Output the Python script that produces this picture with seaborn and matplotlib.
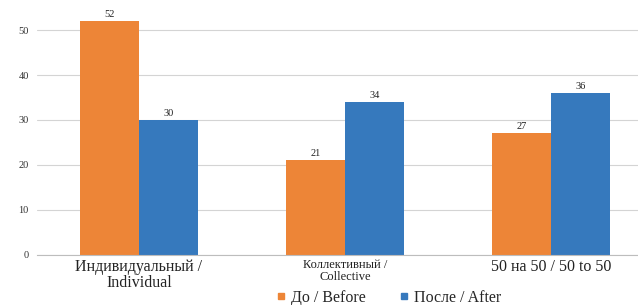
import matplotlib
matplotlib.use("Agg")
import matplotlib.pyplot as plt
from matplotlib.lines import Line2D
import pandas as pd
import seaborn as sns

categories = ["Индивидуальный /\nIndividual", "Коллективный /\nCollective", "50 на 50 / 50 to 50"]
before = [52, 21, 27]
after = [30, 34, 36]
series_names = ["До / Before", "После / After"]
colors = ["#ED8537", "#3679BD"]

df = pd.DataFrame({
    "category": categories * 2,
    "value": before + after,
    "series": [series_names[0]] * 3 + [series_names[1]] * 3,
})

sns.set_style("white")
plt.rcParams["font.family"] = ["Liberation Serif", "DejaVu Serif"]

fig = plt.figure(figsize=(6.38, 3.05), dpi=100)
ax = fig.add_axes([0.058, 0.164, 0.942, 0.836])

sns.barplot(data=df, x="category", y="value", hue="series", palette=colors,
            width=0.573, saturation=1, linewidth=0, legend=False, ax=ax)

for cont in ax.containers:
    ax.bar_label(cont, fontsize=7.5, padding=1.5, color="#222222")

ax.set_ylim(0, 56.67)
ax.set_xlim(-0.495, 2.422)
ax.set_yticks(range(0, 51, 10))
ax.yaxis.grid(True, color="#d4d4d4", linewidth=0.8)
ax.set_axisbelow(True)
for s in ["left", "right", "top"]:
    ax.spines[s].set_visible(False)
ax.spines["bottom"].set_color("#bdbdbd")
ax.tick_params(axis="y", labelsize=7.5, length=0, pad=6, labelcolor="#333333")
ax.tick_params(axis="x", length=0, pad=3, labelcolor="#222222")
ax.set_xlabel("")
ax.set_ylabel("")

sizes = [11.5, 9, 11.5]
for lab, sz in zip(ax.get_xticklabels(), sizes):
    lab.set_fontsize(sz)
    lab.set_linespacing(1.0)

handles = [Line2D([], [], marker="s", linestyle="none", markersize=4,
                  color=c) for c in colors]
fig.legend(handles, series_names, loc="lower center", ncol=2,
           bbox_to_anchor=(388 / 638, -0.05), frameon=False, fontsize=11.5,
           handletextpad=0.2, columnspacing=2.0, handlelength=0.8)

fig.savefig("out.png", dpi=100)
